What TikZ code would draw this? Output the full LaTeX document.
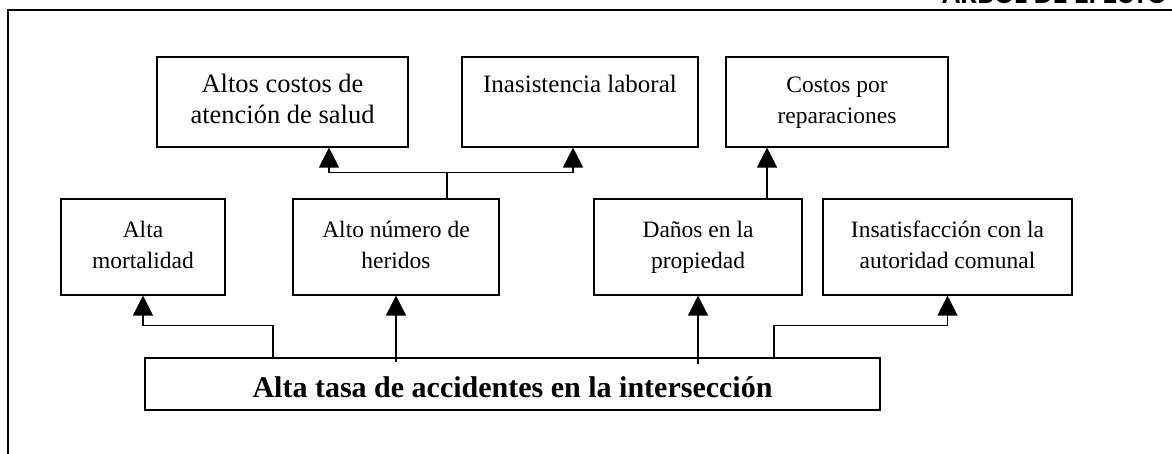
\documentclass[tikz,border=0pt]{standalone}
\usepackage{fontspec}
\setmainfont{Liberation Serif}
\newfontfamily\hdfont{Carlito}
\usetikzlibrary{arrows.meta,calc}
\newcommand\twolines[2]{\begin{tabular}{@{}c@{}}#1\\#2\end{tabular}}
\begin{document}
\begin{tikzpicture}[x=1pt,y=-1pt,
  box/.style={draw, line width=1.1pt, inner sep=0pt},
  toprow/.style={box, minimum height=90pt},
  midrow/.style={box, minimum height=96pt, font=\fontsize{23.5}{31}\selectfont},
  arr/.style={-{Triangle[width=20pt,length=20pt]}, line width=1.2pt},
  link/.style={line width=1.2pt},
  frame/.style={line width=1.4pt}
]
\useasboundingbox (0,0) rectangle (1172,453);
% frame
\draw[frame] (8,470) -- (8,10) -- (1190,10);
\node[anchor=base west, inner sep=0pt, font=\hdfont\bfseries\fontsize{30}{36}\selectfont] (hd) at (942,3) {ARBOL DE EFECTO};
% top row
\node[toprow, minimum width=251pt, font=\fontsize{26.5}{31}\selectfont] (A) at (282.5,102) {\twolines{Altos costos de}{atención de salud}};
\node[toprow, minimum width=236pt, font=\fontsize{25}{31}\selectfont] (B) at (580,102) {\twolines{Inasistencia laboral}{\mbox{}}};
\node[toprow, minimum width=222pt, font=\fontsize{23.5}{31}\selectfont] (C) at (837,102) {\twolines{Costos por}{reparaciones}};
% middle row
\node[midrow, minimum width=164pt] (D) at (143,247) {\twolines{Alta}{mortalidad}};
\node[midrow, minimum width=206pt] (E) at (396,247) {\twolines{Alto número de}{heridos}};
\node[midrow, minimum width=208pt] (F) at (698,247) {\twolines{Daños en la}{propiedad}};
\node[midrow, minimum width=249pt] (G) at (947.5,247) {\twolines{Insatisfacción con la}{autoridad comunal}};
% bottom
\node[box, minimum width=735pt, minimum height=52pt, text height=26pt, text depth=0pt,
  font=\bfseries\fontsize{30}{36}\selectfont] (H) at (512.5,384) {Alta tasa de accidentes en la intersección};
% connectors
\coordinate (j1) at ($([xshift=51pt]E.north)+(0,-26)$);
\draw[link] ([xshift=51pt]E.north) -- (j1);
\draw[arr] (j1) -| ([xshift=46.5pt]A.south);
\draw[arr] (j1) -| ([xshift=-7pt]B.south);
\draw[arr] ([xshift=69pt]F.north) -- ([xshift=-70pt]C.south);
\draw[arr] ([xshift=-239.5pt]H.north) -- ++(0,-32) -| (D.south);
\draw[arr] ($(E.south |- H.north)+(0,5)$) -- (E.south);
\draw[arr] ($(F.south |- H.north)+(0,7)$) -- (F.south);
\draw[arr] ([xshift=261.5pt]H.north) -- ++(0,-32) -| (G.south);
\end{tikzpicture}
\end{document}
